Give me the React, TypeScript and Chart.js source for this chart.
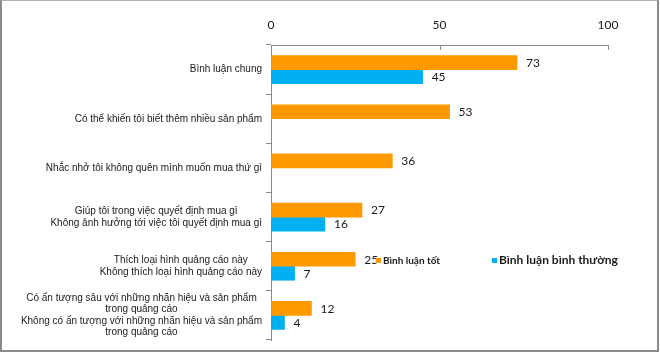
import React, { useEffect, useRef } from 'react';
import { Chart, registerables } from 'chart.js';

Chart.register(...registerables);

const categories: string[][] = [
  ['Bình luận chung'],
  ['Có thể khiến tôi biết thêm nhiều sản phẩm'],
  ['Nhắc nhở tôi không quên mình muốn mua thứ gì'],
  ['Giúp tôi trong việc quyết định mua gì', 'Không ảnh hưởng tới việc tôi quyết định mua gì'],
  ['Thích loại hình quảng cáo này', 'Không thích loại hình quảng cáo này'],
  [
    'Có ấn tượng sâu với những nhãn hiệu và sản phẩm',
    'trong quảng cáo',
    'Không có ấn tượng với những nhãn hiệu và sản phẩm',
    'trong quảng cáo',
  ],
];
const goodLabel = 'Bình luận tốt';
const normalLabel = 'Bình luận bình thường';
const goodValues: (number | null)[] = [73, 53, 36, 27, 25, 12];
const normalValues: (number | null)[] = [45, null, null, 16, 7, 4];
const xMin = 0;
const xMax = 100;
const xStep = 50;

const ORANGE = '#FF9900';
const BLUE = '#00B0F0';
const AXIS = '#8a8a8a';
const TEXT = '#1a1a1a';

const customPlugin = {
  id: 'custom',
  afterDraw(chart: any) {
    const ctx = chart.ctx;
    const area = chart.chartArea;
    const xs = chart.scales.x;
    const ys = chart.scales.y;
    ctx.save();
    // inward tick marks on top axis
    ctx.strokeStyle = AXIS;
    ctx.lineWidth = 1;
    xs.ticks.forEach((t: any) => {
      const px = Math.round(xs.getPixelForValue(t.value)) + 0.5;
      ctx.beginPath();
      ctx.moveTo(px, area.top);
      ctx.lineTo(px, area.top + 5);
      ctx.stroke();
    });
    // category labels: lines centred to each other, block right-aligned
    ctx.font = '10px "Liberation Sans", Arial, sans-serif';
    ctx.fillStyle = TEXT;
    ctx.textBaseline = 'middle';
    ctx.textAlign = 'center';
    const lh = 11.5;
    const rightEdge = area.left - 9;
    (chart.data.labels as string[][]).forEach((lines, i) => {
      const cy = ys.getPixelForValue(i);
      const maxW = Math.max(...lines.map((l) => ctx.measureText(l).width));
      const cx = rightEdge - maxW / 2;
      const startY = cy - ((lines.length - 1) * lh) / 2;
      lines.forEach((l, j) => ctx.fillText(l, cx, startY + j * lh));
    });
    // data labels
    ctx.font = '12px Lato, sans-serif';
    ctx.textAlign = 'left';
    chart.data.datasets.forEach((ds: any, di: number) => {
      const meta = chart.getDatasetMeta(di);
      meta.data.forEach((el: any, i: number) => {
        const v = ds.data[i];
        if (v === null || v === undefined) return;
        ctx.fillText(String(v), el.x + 9, el.y + 0.5);
      });
    });
    // legend inside plot
    const items = [
      { x: 376, y: 258, font: 'bold 10px Lato, sans-serif', ds: 0 },
      { x: 492, y: 258, font: 'bold 12px Lato, sans-serif', ds: 1 },
    ];
    items.forEach((it) => {
      const ds = chart.data.datasets[it.ds];
      ctx.fillStyle = ds.backgroundColor;
      ctx.fillRect(it.x, it.y, 5, 5);
      ctx.fillStyle = TEXT;
      ctx.font = it.font;
      ctx.textBaseline = 'middle';
      ctx.fillText(ds.label, it.x + 7, it.y + 2.5);
    });
    ctx.restore();
  },
};

export default function App() {
  const ref = useRef<HTMLCanvasElement | null>(null);
  useEffect(() => {
    document.body.style.margin = '0';
    const canvas = ref.current;
    if (!canvas) return;
    const chart = new Chart(canvas, {
      type: 'bar',
      data: {
        labels: categories as any,
        datasets: [
          { label: goodLabel, data: goodValues, backgroundColor: ORANGE, barThickness: 14 },
          { label: normalLabel, data: normalValues, backgroundColor: BLUE, barThickness: 14 },
        ],
      },
      options: {
        indexAxis: 'y',
        animation: false,
        responsive: false,
        maintainAspectRatio: false,
        layout: { padding: { top: 0, right: 52, bottom: 14, left: 0 } },
        plugins: { legend: { display: false }, tooltip: { enabled: false } },
        scales: {
          x: {
            type: 'linear',
            position: 'top',
            min: xMin,
            max: xMax,
            ticks: {
              stepSize: xStep,
              padding: 13,
              color: TEXT,
              font: { family: 'Lato, sans-serif', size: 12 },
            },
            grid: { display: true, drawOnChartArea: false, drawTicks: false, color: AXIS },
            border: { display: true, color: AXIS },
            afterFit: (s: any) => {
              s.height = 45;
            },
          },
          y: {
            type: 'category',
            position: 'left',
            ticks: { display: false },
            grid: { offset: true, drawOnChartArea: false, tickLength: 5, color: AXIS },
            border: { display: true, color: AXIS },
            afterFit: (s: any) => {
              s.width = 271;
            },
          },
        },
      },
      plugins: [customPlugin],
    });
    return () => chart.destroy();
  }, []);
  return (
    <div style={{ position: 'relative', width: 660, height: 354, background: '#fff' }}>
      <canvas ref={ref} width={660} height={354} style={{ display: 'block' }} />
      <div
        style={{
          position: 'absolute',
          left: 0,
          top: 0,
          width: 659,
          height: 352,
          boxSizing: 'border-box',
          borderLeft: '2px solid #8a8a8a',
          borderRight: '2px solid #8a8a8a',
          borderBottom: '2px solid #8a8a8a',
          borderTop: '1px solid #b0b0b0',
          pointerEvents: 'none',
        }}
      />
    </div>
  );
}
